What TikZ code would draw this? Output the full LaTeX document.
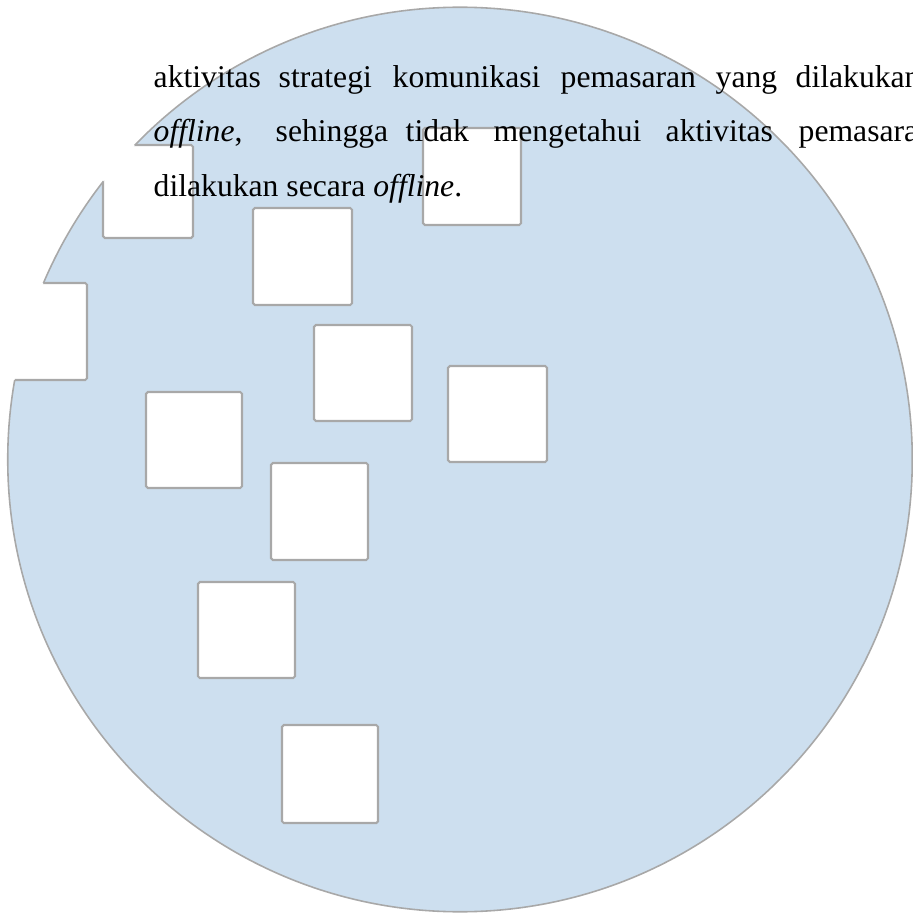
\documentclass[tikz,border=0pt]{standalone}
\usepackage{fontspec}
\setmainfont{Liberation Serif}
\definecolor{discblue}{RGB}{205,223,239}
\definecolor{edgegray}{RGB}{168,168,168}
\tikzset{
  word/.style={anchor=base west, inner sep=0pt, font=\fontsize{9pt}{10pt}\selectfont},
  holeedge/.style={edgegray, line width=0.6pt, rounded corners=0.5pt}
}

\begin{document}
\begin{tikzpicture}[x=0.01cm, y=-0.01cm]
\useasboundingbox (0,0) rectangle (912,916);
% Disc
\fill[discblue, draw=edgegray, line width=0.45pt] (460,459.5) circle[radius=4.52cm];
% Square holes: white fill, grey edge only inside the disc
\foreach \xa/\ya/\xb/\yb in {103/145/193/238, -10/283/87/380, 423/128/521/225,
    253/208/352/305, 314/325/412/421, 448/366/547/462, 146/392/242/488,
    271/463/368/560, 198/582/295/678, 282/725/378/823} {
  \fill[white] (\xa,\ya) rectangle (\xb,\yb);
  \begin{scope}
    \clip (460,459.5) circle[radius=4.52cm];
    \draw[holeedge] (\xa,\ya) rectangle (\xb,\yb);
  \end{scope}
}
% Text, first two lines justified word by word
\foreach \w/\x in {aktivitas/153, strategi/278, komunikasi/392, pemasaran/560, yang/715, dilakukan/795}
  \node[word] (top-\x) at (\x,88) {\w};
\foreach \w/\x in {{\textit{offline},}/153, sehingga/275, tidak/405, mengetahui/493, aktivitas/665, pemasaran/798}
  \node[word] (mid-\x) at (\x,142) {\w};
\node[word] (last) at (153,197) {dilakukan secara \textit{offline}.};
\end{tikzpicture}
\end{document}
